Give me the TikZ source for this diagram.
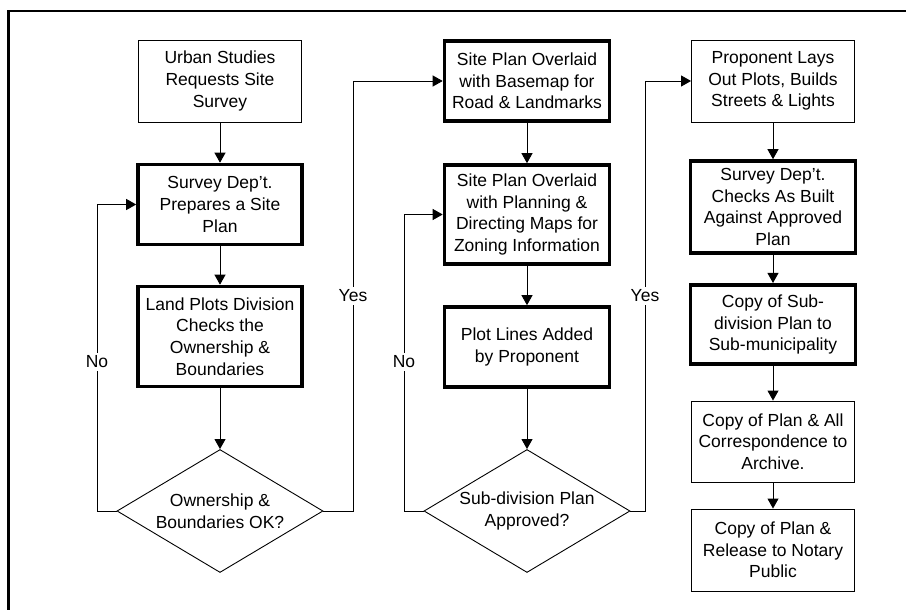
\documentclass[tikz,border=0pt]{standalone}
\usepackage{fontspec}
\setmainfont{Liberation Sans}
\usetikzlibrary{arrows.meta,shapes.geometric}
\begin{document}
\begin{tikzpicture}[x=1pt,y=-1pt,
  txt/.style={font=\fontsize{17.5}{21.7}\selectfont, align=center},
  thinbox/.style={txt, draw, line width=0.9pt, rectangle, inner sep=0pt, minimum width=163pt},
  thickbox/.style={txt, draw, line width=3.6pt, rectangle, inner sep=0pt, minimum width=164pt},
  decision/.style={txt, draw, line width=0.9pt, diamond, inner sep=0pt, shape aspect=1.67,
                   minimum width=206pt, minimum height=123pt},
  flow/.style={line width=0.9pt, -{Triangle[length=10pt,width=11pt]}},
  link/.style={line width=0.9pt},
  lbl/.style={txt, fill=white, inner sep=3pt}]
\useasboundingbox (0,0) rectangle (906,610);

% frame
\draw[line width=2.7pt] (8.5,612) -- (8.5,11) -- (908,11);

% first column
\node[thinbox, minimum height=82pt] (urban) at (220,81) {Urban Studies\\Requests Site\\Survey};
\node[thickbox, minimum height=80pt] (prep) at (220,204.5) {Survey Dep't.\\Prepares a Site\\Plan};
\node[thickbox, minimum height=100pt] (land) at (220,336.5) {Land Plots Division\\Checks the\\Ownership \&\\Boundaries};
\node[decision] (ok1) at (220,511) {Ownership \&\\Boundaries OK?};

% second column
\node[thickbox, minimum height=80pt, minimum width=165pt] (base) at (527,81) {Site Plan Overlaid\\with Basemap for\\Road \& Landmarks};
\node[thickbox, minimum height=99pt, minimum width=165pt] (zoning) at (527,214.5) {Site Plan Overlaid\\with Planning \&\\Directing Maps for\\Zoning Information};
\node[thickbox, minimum height=80pt, minimum width=165pt] (plot) at (527,347) {Plot Lines Added\\by Proponent};
\node[decision] (ok2) at (527,511) {Sub-division Plan\\Approved?};

% third column
\node[thinbox, minimum height=82pt] (lays) at (773,81) {Proponent Lays\\Out Plots, Builds\\Streets \& Lights};
\node[thickbox, minimum height=92pt, minimum width=165pt] (built) at (773,207) {Survey Dep't.\\Checks As Built\\Against Approved\\Plan};
\node[thickbox, minimum height=79.5pt, minimum width=165pt] (muni) at (773,324.5) {Copy of Sub-\\division Plan to\\Sub-municipality};
\node[thinbox, minimum height=81pt] (archive) at (773,441.5) {Copy of Plan \& All\\Correspondence to\\Archive.};
\node[thinbox, minimum height=82pt] (notary) at (773,550) {Copy of Plan \&\\Release to Notary\\Public};

% turning points of the loop-back and forward connectors
\coordinate (n1b) at (97,511);  \coordinate (n1t) at (97,204.5);
\coordinate (y1b) at (353,511); \coordinate (y1t) at (353,81);
\coordinate (n2b) at (404,511); \coordinate (n2t) at (404,214.5);
\coordinate (y2b) at (645,511); \coordinate (y2t) at (645,81);

% straight flow
\draw[flow] (urban) -- (prep);
\draw[flow] (prep) -- (land);
\draw[flow] (land) -- (ok1);
\draw[flow] (base) -- (zoning);
\draw[flow] (zoning) -- (plot);
\draw[flow] (plot) -- (ok2);
\draw[flow] (lays) -- (built);
\draw[flow] (built) -- (muni);
\draw[flow] (muni) -- (archive);
\draw[flow] (archive) -- (notary);

% decisions
\draw[flow] (ok1.west) -- (n1b) -- (n1t) -- (prep.west);
\draw[flow] (ok1.east) -- (y1b) -- (y1t) -- (base.west);
\draw[flow] (ok2.west) -- (n2b) -- (n2t) -- (zoning.west);
\draw[flow] (ok2.east) -- (y2b) -- (y2t) -- (lays.west);

\node[lbl] (no1) at (97,362) {No};
\node[lbl] (yes1) at (353,296) {Yes};
\node[lbl] (no2) at (404,362) {No};
\node[lbl] (yes2) at (645,296) {Yes};
\end{tikzpicture}
\end{document}
